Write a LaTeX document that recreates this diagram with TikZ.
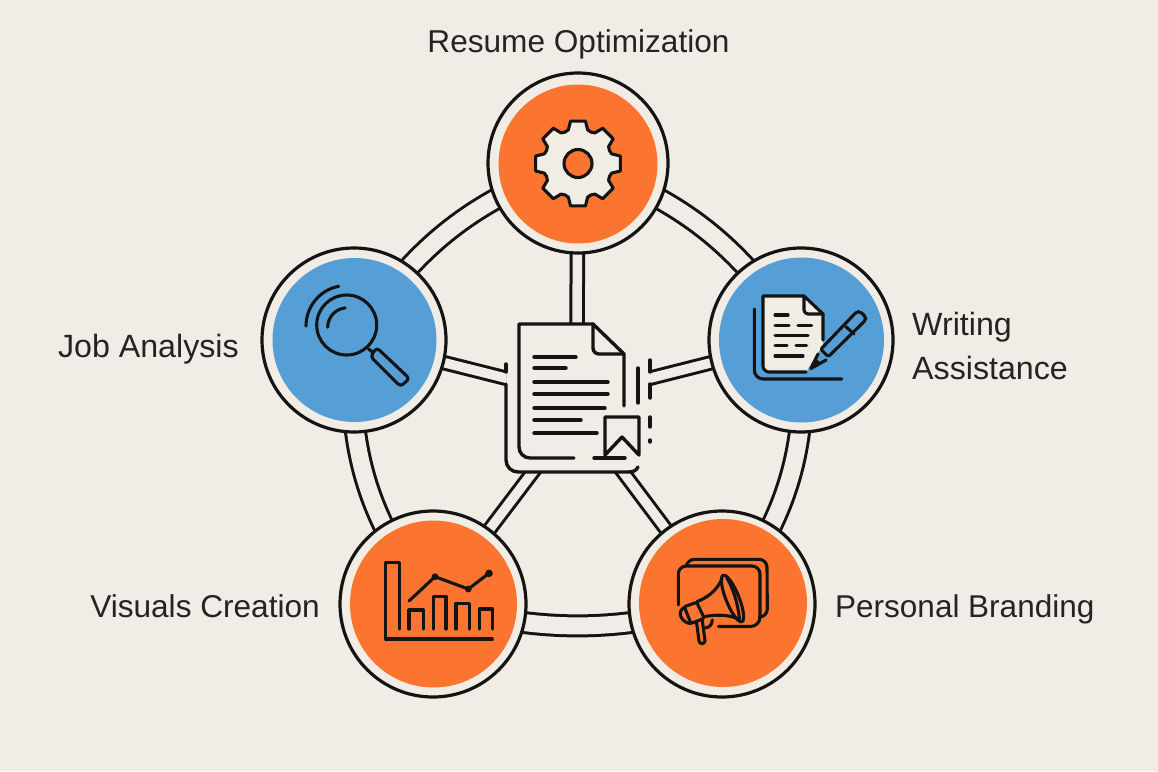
\documentclass[tikz,border=0pt]{standalone}
\usepackage{fontspec}
\setmainfont{Liberation Sans}
\definecolor{bgc}{HTML}{F2ECE6}
\definecolor{ringc}{HTML}{F1EDE5}
\definecolor{inkc}{HTML}{141414}
\definecolor{orangec}{HTML}{FB7430}
\definecolor{bluec}{HTML}{559FD6}
\definecolor{textc}{HTML}{242424}
\tikzset{
  ringlink/.style={line width=3pt,draw=inkc,double=bgc,double distance=17pt},
  spokelink/.style={line width=3pt,draw=inkc,double=bgc,double distance=9.5pt},
  disc/.style={circle,draw=inkc,line width=3.2pt,fill=ringc,inner sep=0pt,minimum size=#1},
  face/.style={circle,inner sep=0pt,minimum size=#1},
  icon/.style={draw=inkc,line width=3.1pt,line cap=round,line join=round},
  docline/.style={icon,line width=3.4pt},
  label/.style={font=\fontsize{31.6}{44}\selectfont,text=textc,inner sep=0pt}
}
\begin{document}
\begin{tikzpicture}[x=1pt,y=-1pt]
\path[use as bounding box,fill=bgc] (0,0) rectangle (1158,771);
% anchors
\coordinate (ctop) at (578,163);
\coordinate (cright) at (801,340);
\coordinate (clr) at (722,604);
\coordinate (cll) at (433,604);
\coordinate (cleft) at (354,340);
\coordinate (hubN) at (577,323);
\coordinate (hubW) at (521,382);
\coordinate (hubE) at (635,382);
\coordinate (hubSW) at (548,452);
\coordinate (hubSE) at (608,452);
% ring
\draw[ringlink] (ctop) to[bend left=19] (cright);
\draw[ringlink] (cright) to[bend left=21] (clr);
\draw[ringlink] (clr) to[bend left=15] (cll);
\draw[ringlink] (cll) to[bend left=21] (cleft);
\draw[ringlink] (cleft) to[bend left=19] (ctop);
% spokes
\draw[spokelink] (ctop) -- (hubN);
\begin{scope}
\clip (300,300) rectangle (506,420);
\draw[spokelink] (cleft) -- (hubW);
\end{scope}
\begin{scope}
\clip (650,300) rectangle (850,420);
\draw[spokelink] (cright) -- (hubE);
\end{scope}
\begin{scope}
\clip (400,472) rectangle (760,620);
\draw[spokelink] (cll) -- (hubSW);
\draw[spokelink] (clr) -- (hubSE);
\end{scope}
% discs
\node[disc=180pt] (top) at (ctop) {};
\node[disc=184pt] (right) at (cright) {};
\node[disc=186pt] (lr) at (clr) {};
\node[disc=186pt] (ll) at (cll) {};
\node[disc=184pt] (left) at (cleft) {};
\node[face=159pt,fill=orangec] (topf) at (578,164) {};
\node[face=165pt,fill=bluec] (rightf) at (801.5,340) {};
\node[face=168pt,fill=orangec] (lrf) at (723,603) {};
\node[face=167pt,fill=orangec] (llf) at (433.5,604) {};
\node[face=164pt,fill=bluec] (leftf) at (354.5,340) {};
% centre document
\draw[docline] (506,364)--(506,372);
\draw[docline] (506,384)--(506,460) arc[start angle=180,end angle=90,radius=12] -- (628,472) .. controls (633,472) and (636,471) .. (638,467);
\draw[docline] (650,360)--(650,372) (650,384)--(650,398) (650,417)--(650,427) (650,440)--(650,442);
\draw[docline] (574,458)--(530,458) arc[start angle=90,end angle=180,radius=11] -- (519,324) -- (593,324) -- (624,354) -- (624,406);
\draw[docline] (593,324)--(593,348) arc[start angle=180,end angle=90,radius=6] -- (624,354);
\draw[docline] (594,458)--(625,458);
\draw[docline] (534,357)--(576,357) (534,368)--(566,368) (534,382)--(608,382) (534,394)--(608,394) (534,408)--(605,408) (534,420)--(581,420) (534,433)--(597,433);
\draw[docline] (605,455)--(605,417)--(639,417)--(639,455)--(622,437)--cycle;
\draw[docline] (638,368)--(638,403);
% gear
\begin{scope}[shift={(578,163.5)}]
\draw[icon,fill=ringc]
 (-22.5:34)
 \foreach \a in {0,45,...,315} {
   -- ({\a-16}:35) -- ({\a-10}:43) -- ({\a+10}:43) -- ({\a+16}:35)
   -- ({\a+22.5}:34)
 } -- cycle;
\draw[icon,fill=orangec] (0,0) circle[radius=14];
\end{scope}
% magnifier
\draw[icon] (346.7,325) circle[radius=30];
\draw[icon] (306,326) arc[start angle=180,end angle=259,radius=40.5];
\draw[icon] (327.7,327.3) arc[start angle=180,end angle=264,radius=19.5];
\draw[icon] (368.5,349)--(373,352.5);
\draw[icon,rounded corners=3.5pt] (376.7,347.6)--(409.5,378.6)--(400.5,386.5)--(370.5,356.5)--cycle;
% document and pen
\draw[icon] (754.3,309)--(754.3,370) arc[start angle=180,end angle=90,radius=9] -- (841.7,379);
\fill[ringc] (763,296)--(804,296)--(823,314)--(823,345)--(815,357)--(806,372)--(763,372)--cycle;
\draw[icon] (806,372)--(769,372) arc[start angle=90,end angle=180,radius=6] -- (763,296)--(804,296)--(823,314)--(823,340);
\draw[icon] (804,296)--(804,310) arc[start angle=180,end angle=90,radius=4] -- (823,314);
\draw[icon] (775,315)--(788,315) (775,325.7)--(789,325.7) (798,325.7)--(811.7,325.7) (775,335.7)--(808,335.7) (775,345.7)--(787,345.7) (796,345.7)--(806.7,345.7) (775,356)--(803,356);
\draw[icon,fill=bluec,rounded corners=2pt] (820.7,349.3)--(856.7,311.7)--(860,311.5)--(865.7,317)--(865.7,320)--(828.3,356.7)--cycle;
\draw[icon] (845.7,326.5)--(854,334);
\draw[icon,fill=bluec] (818,354)--(811,368.5)--(826,360);
\fill[inkc] (815,358)--(810,369.5)--(821,363)--cycle;
% megaphone
\draw[icon] (678.3,605)--(678.3,574) arc[start angle=180,end angle=270,radius=8] -- (752,566) arc[start angle=270,end angle=360,radius=8] -- (760,617) arc[start angle=0,end angle=90,radius=9.5] -- (718.3,626.5);
\draw[icon] (686,566) .. controls (688,561) and (691,559.3) .. (695,559.3) -- (759,559.3) arc[start angle=270,end angle=360,radius=8] -- (767.3,609) arc[start angle=0,end angle=90,radius=8]--(760,617);
\draw[icon,rotate around={-68:(732.5,598.5)}] (732.5,598.5) ellipse[x radius=25,y radius=6.5];
\draw[icon] (727,578) .. controls (733,588) and (738,604) .. (739.5,619);
\draw[icon] (722,579) .. controls (716,592) and (706,598) .. (697,601.7);
\draw[icon] (737,618.5) .. controls (728,614.5) and (716,614.5) .. (705,616.5);
\draw[icon,fill=orangec,rounded corners=1.5pt] (684.3,606.7)--(696.7,602.3)--(704.3,618.3)--(691,623.5)--cycle;
\draw[icon] (685,607) .. controls (680,609) and (679.5,614) .. (681,617) .. controls (683,621) and (687,623.5) .. (691,623.5);
\draw[icon] (696.5,622) -- (699,641) .. controls (699.5,644.5) and (704.5,644.5) .. (705,641) -- (702.3,620.5);
\draw[icon] (712.3,620) .. controls (712,625) and (709,628) .. (704.5,628);
% chart
\draw[icon] (399.3,629)--(399.3,562.3)--(385.7,562.3)--(385.7,639)--(492.3,639);
\draw[icon] (409,629)--(409,610)--(423.3,610)--(423.3,629);
\draw[icon] (433.3,629)--(433.3,596.7)--(446,596.7)--(446,629);
\draw[icon] (456,629)--(456,603.3)--(469.3,603.3)--(469.3,629);
\draw[icon] (479.3,629)--(479.3,609)--(492.7,609)--(492.7,629);
\draw[icon] (409,601)--(435,576.7)--(468.3,589)--(489,573.3);
\fill[inkc] (435,576.7) circle[radius=3.4] (468.3,589) circle[radius=3.4] (489,573.3) circle[radius=3.8];
% labels
\node[label] (ltop) at (578.5,44) {Resume Optimization};
\node[label,anchor=east,font=\fontsize{32.2}{44}\selectfont] (lleft) at (239,349) {Job Analysis};
\node[label,anchor=west,align=left,font=\fontsize{32.2}{44}\selectfont] (lright) at (912,346) {Writing\\Assistance};
\node[label,anchor=east] (lll) at (320,606) {Visuals Creation};
\node[label,anchor=west,font=\fontsize{31.5}{44}\selectfont] (llr) at (835,609) {Personal Branding};
\end{tikzpicture}
\end{document}
